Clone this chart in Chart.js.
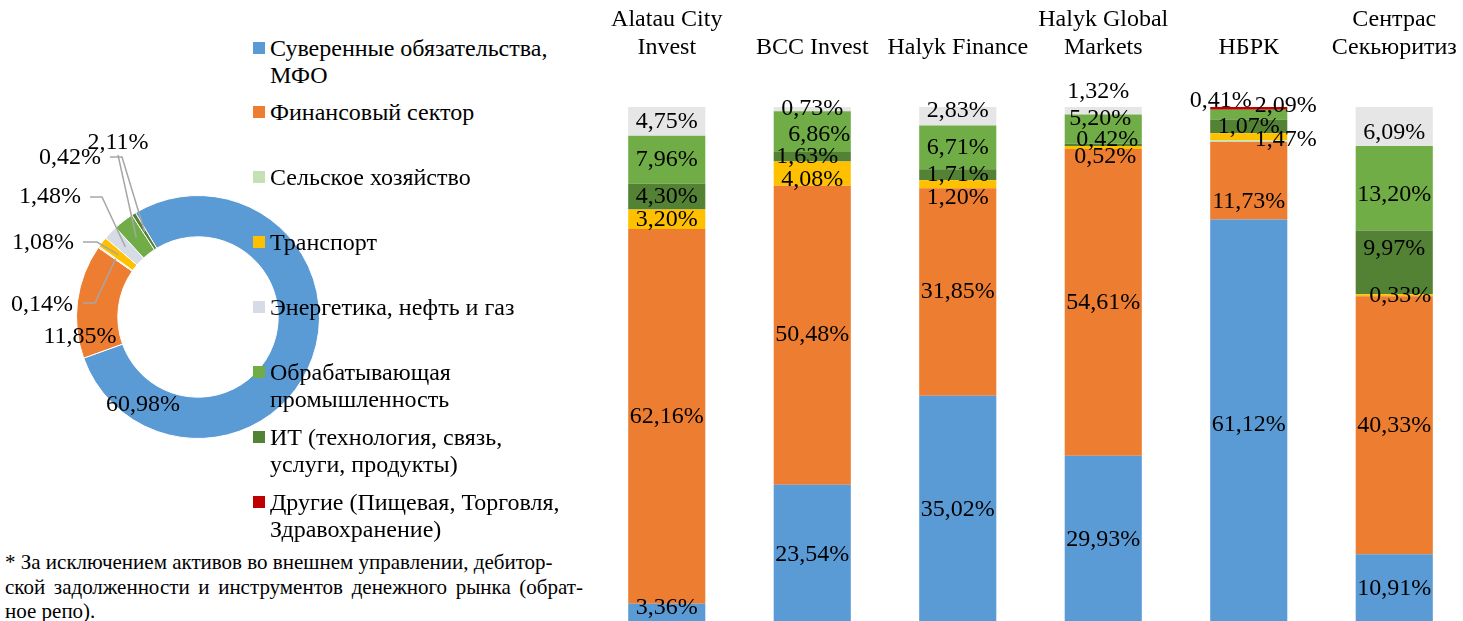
<!DOCTYPE html>
<html lang="ru">
<head>
<meta charset="utf-8">
<title>Структура портфелей по секторам</title>
<script src="https://cdn.jsdelivr.net/npm/chart.js@4/dist/chart.umd.min.js"></script>
<style>
  html, body { margin: 0; padding: 0; background: #fff; }
  body { width: 1463px; height: 621px; overflow: hidden; position: relative; font-family: "Liberation Serif", "Times New Roman", serif; color: #000; }
  #donutWrap { position: absolute; left: 0; top: 130px; width: 396px; height: 374px; }
  #barWrap { position: absolute; left: 594px; top: 0; width: 873px; height: 624px; }
  .legend { position: absolute; left: 253px; top: 0; }
  .legend .item { position: absolute; left: 0; width: 320px; font-size: 24px; line-height: 27px; }
  .legend .box { position: absolute; left: 0; top: 7px; width: 12px; height: 12px; }
  .legend .txt { position: absolute; left: 17px; width: 302px; }
  .note { position: absolute; left: 5px; top: 550px; width: 578px; font-size: 21px; line-height: 24.5px; }
  .note div { white-space: nowrap; }
  .note .j { text-align: justify; text-align-last: justify; }
</style>
</head>
<body>
<div id="donutWrap"><canvas id="donut" width="396" height="374"></canvas></div>
<div id="barWrap"><canvas id="bars" width="873" height="624"></canvas></div>
<div class="legend" id="legend"></div>
<div class="note">
  <div>* За исключением активов во внешнем управлении, дебитор-</div>
  <div class="j">ской задолженности и инструментов денежного рынка (обрат-</div>
  <div>ное репо).</div>
</div>
<script>
// sectors, in legend order
const sectors = [
  'Суверенные обязательства, МФО',
  'Финансовый сектор',
  'Сельское хозяйство',
  'Транспорт',
  'Энергетика, нефть и газ',
  'Обрабатывающая промышленность',
  'ИТ (технология, связь, услуги, продукты)',
  'Другие (Пищевая, Торговля, Здравохранение)'
];
const sectorColors = ['#5B9BD5', '#ED7D31', '#C5E0B4', '#FFC000', '#D6DCE5', '#70AD47', '#548235', '#C00000'];

// donut: whole portfolio, same order as sectors
const totalShares = [60.98, 11.85, 0.14, 1.08, 1.48, 2.11, 0.42, 0];

// bars: one value per company
const companies = [['Alatau City', 'Invest'], 'BCC Invest', 'Halyk Finance', ['Halyk Global', 'Markets'], 'НБРК', ['Сентрас', 'Секьюритиз']];
const sovereign     = [3.36, 23.54, 35.02, 29.93, 61.12, 10.91];
const financial     = [62.16, 50.48, 31.85, 54.61, 11.73, 40.33];
const agriculture   = [0, 0, 0, 0, 0.25, 0];
const transport     = [3.20, 4.08, 1.20, 0.52, 1.07, 0.33];
const itSector      = [4.30, 1.63, 1.71, 0.42, 2.09, 9.97];
const manufacturing = [7.96, 6.86, 6.71, 5.20, 1.47, 13.20];
const energy        = [4.75, 0.73, 2.83, 1.32, 0, 6.09];
const other         = [0, 0, 0, 0, 0.41, 0];

const fmt = v => v.toFixed(2).replace('.', ',') + '%';
const FONT = '"Liberation Serif", "Times New Roman", serif';

// ---- legend (html, so the long names can wrap) ----
const legendEl = document.getElementById('legend');
sectors.forEach((name, i) => {
  const item = document.createElement('div');
  item.className = 'item';
  item.style.top = (34.5 + i * 64.9) + 'px';
  item.innerHTML = `<span class="box" style="background:${sectorColors[i]}"></span><span class="txt">${name}</span>`;
  legendEl.appendChild(item);
});

// ---- donut ----
// label centre + leader points, as offsets from the donut centre
const donutLabelPos = [
  { at: [-55, 88] },
  { at: [-118, 20] },
  { at: [-156, -12], lead: [[-115, -14], [-103, -14]] },
  { at: [-155, -74], lead: [[-115, -75], [-101, -75]] },
  { at: [-148, -120], lead: [[-108, -120], [-96, -120]] },
  { at: [-80, -174], lead: [[-80, -162]] },
  { at: [-128, -159], lead: [[-88, -160], [-76, -160]] },
  null
];

const donutLabels = {
  id: 'donutLabels',
  afterDatasetsDraw(chart) {
    const ctx = chart.ctx;
    const meta = chart.getDatasetMeta(0);
    ctx.save();
    ctx.font = '24px ' + FONT;
    ctx.textAlign = 'center';
    ctx.textBaseline = 'middle';
    meta.data.forEach((arc, i) => {
      const pos = donutLabelPos[i];
      const v = totalShares[i];
      if (!pos || !v) return;
      const p = arc.getProps(['x', 'y', 'startAngle', 'endAngle', 'innerRadius', 'outerRadius'], true);
      if (pos.lead) {
        const mid = (p.startAngle + p.endAngle) / 2;
        const r = (p.innerRadius + p.outerRadius) / 2;
        ctx.strokeStyle = '#A6A6A6';
        ctx.lineWidth = 1.5;
        ctx.beginPath();
        pos.lead.forEach((pt, k) => {
          if (k === 0) ctx.moveTo(p.x + pt[0], p.y + pt[1]);
          else ctx.lineTo(p.x + pt[0], p.y + pt[1]);
        });
        ctx.lineTo(p.x + Math.cos(mid) * r, p.y + Math.sin(mid) * r);
        ctx.stroke();
      }
      ctx.fillStyle = '#000';
      ctx.fillText(fmt(v), p.x + pos.at[0], p.y + pos.at[1]);
    });
    ctx.restore();
  }
};

new Chart(document.getElementById('donut'), {
  type: 'doughnut',
  data: {
    labels: sectors,
    datasets: [{
      data: totalShares,
      backgroundColor: sectorColors,
      borderColor: '#fff',
      borderWidth: 1
    }]
  },
  options: {
    responsive: false,
    animation: false,
    rotation: -31,
    cutout: '66%',
    layout: { padding: { left: 76, right: 76, top: 65, bottom: 65 } },
    plugins: { legend: { display: false }, tooltip: { enabled: false } }
  },
  plugins: [donutLabels]
});

// ---- stacked bars (100%) ----
const barSeries = [
  { values: sovereign, color: '#5B9BD5' },
  { values: financial, color: '#ED7D31' },
  { values: agriculture, color: '#C5E0B4', noLabel: true },
  { values: transport, color: '#FFC000' },
  { values: itSector, color: '#548235' },
  { values: manufacturing, color: '#70AD47' },
  { values: energy, color: '#E7E6E6' },
  { values: other, color: '#C00000' }
];
const totals = companies.map((c, j) => barSeries.reduce((s, d) => s + d.values[j], 0));

// hand-moved labels: "dataset-company" -> [dx, dy]
const labelNudge = {
  '0-0': [0, -6],
  '5-1': [7, 3], '4-1': [-5, 0], '3-1': [0, 6],
  '6-2': [0, -6], '3-2': [0, 13],
  '6-3': [-5, -19], '5-3': [-3, -10], '4-3': [4, -5], '3-3': [2, 9],
  '7-4': [-28, -8], '4-4': [37, -21], '5-4': [37, 25], '3-4': [0, -10], '1-4': [0, 21], '0-4': [0, 3],
  '6-5': [0, 6], '5-5': [0, 7], '4-5': [0, -14], '3-5': [6, 0]
};

const barLabels = {
  id: 'barLabels',
  afterDatasetsDraw(chart) {
    const ctx = chart.ctx;
    ctx.save();
    ctx.font = '24px ' + FONT;
    ctx.fillStyle = '#000';
    ctx.textAlign = 'center';
    ctx.textBaseline = 'middle';
    barSeries.forEach((s, i) => {
      if (s.noLabel) return;
      chart.getDatasetMeta(i).data.forEach((el, j) => {
        const v = s.values[j];
        if (!v) return;
        const p = el.getProps(['x', 'y', 'base'], true);
        const n = labelNudge[i + '-' + j] || [0, 0];
        ctx.fillText(fmt(v), p.x + n[0], (p.y + p.base) / 2 + n[1]);
      });
    });
    ctx.restore();
  }
};

new Chart(document.getElementById('bars'), {
  type: 'bar',
  data: {
    labels: companies,
    datasets: barSeries.map((s, i) => ({
      label: sectors[i],
      data: s.values.map((v, j) => v / totals[j] * 100),
      backgroundColor: s.color,
      borderWidth: 0,
      barPercentage: 0.53,
      categoryPercentage: 1
    }))
  },
  options: {
    responsive: false,
    animation: false,
    layout: { padding: 0 },
    scales: {
      x: {
        position: 'top',
        stacked: true,
        grid: { display: false, drawTicks: false },
        border: { display: false },
        ticks: {
          autoSkip: false,
          maxRotation: 0,
          padding: 45,
          color: '#000',
          font: { family: FONT, size: 24, lineHeight: '28px' }
        },
        afterFit(scale) {
          scale.height = 107;
          scale.paddingLeft = 0;
          scale.paddingRight = 0;
        }
      },
      y: { stacked: true, min: 0, max: 100, display: false }
    },
    plugins: { legend: { display: false }, tooltip: { enabled: false } }
  },
  plugins: [barLabels]
});
</script>
</body>
</html>
